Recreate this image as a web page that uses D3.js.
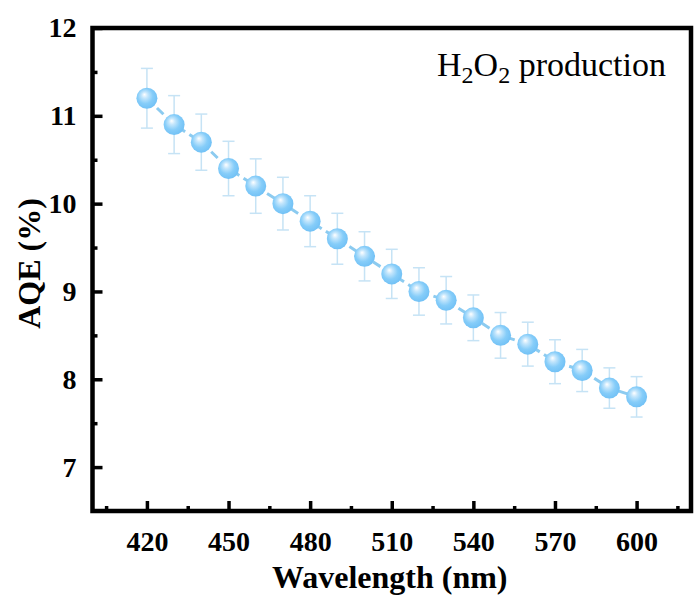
<!DOCTYPE html>
<html><head><meta charset="utf-8">
<script src="https://cdn.jsdelivr.net/npm/d3@7"></script>
<style>html,body{margin:0;padding:0;background:#fff;}svg{display:block;}</style>
</head><body>
<svg id="c" width="694" height="597"></svg>
<script>
const wavelengths = [420,430,440,450,460,470,480,490,500,510,520,530,540,550,560,570,580,590,600];
const aqe = [11.2,10.9,10.7,10.4,10.2,10.0,9.8,9.6,9.4,9.2,9.0,8.9,8.7,8.5,8.4,8.2,8.1,7.9,7.8];
const aqeErr = [0.34,0.33,0.32,0.31,0.31,0.30,0.29,0.29,0.28,0.28,0.27,0.27,0.26,0.26,0.25,0.25,0.24,0.23,0.23];
const xTicks = [420,450,480,510,540,570,600];
const xMinor = [405,435,465,495,525,555,585,615];
const yTicks = [7,8,9,10,11,12];
const yMinor = [7.5,8.5,9.5,10.5,11.5];

const svg = d3.select("#c");
const L = 92.5, R = 691, T = 28, B = 511;
const x = d3.scaleLinear().domain([400,620]).range([L,R]);
const y = d3.scaleLinear().domain([6.5,12]).range([B,T]);

const defs = svg.append("defs");
const g = defs.append("radialGradient").attr("id","ball").attr("cx","45%").attr("cy","45%").attr("r","60%").attr("fx","38%").attr("fy","32%");
g.append("stop").attr("offset","0%").attr("stop-color","#ffffff");
g.append("stop").attr("offset","25%").attr("stop-color","#c4e6fc");
g.append("stop").attr("offset","60%").attr("stop-color","#86cdf9");
g.append("stop").attr("offset","100%").attr("stop-color","#6ebff5");

const font = "'Liberation Serif','Times New Roman',serif";

// error bars
const eb = svg.append("g").attr("stroke","#c6e3f5").attr("stroke-width",1.5).attr("fill","none");
wavelengths.forEach((w,i)=>{
  const cx = x(w), y1 = y(aqe[i]+aqeErr[i]), y2 = y(aqe[i]-aqeErr[i]);
  eb.append("line").attr("x1",cx).attr("x2",cx).attr("y1",y1).attr("y2",y2);
  eb.append("line").attr("x1",cx-6).attr("x2",cx+6).attr("y1",y1).attr("y2",y1);
  eb.append("line").attr("x1",cx-6).attr("x2",cx+6).attr("y1",y2).attr("y2",y2);
});

// dashed line
const line = d3.line().x((d,i)=>x(wavelengths[i])).y(d=>y(d));
svg.append("path").datum(aqe).attr("d",line).attr("fill","none")
  .attr("stroke","#8ccbf0").attr("stroke-width",3).attr("stroke-dasharray","9,5");

// markers
svg.append("g").selectAll("circle").data(aqe).join("circle")
  .attr("cx",(d,i)=>x(wavelengths[i])).attr("cy",d=>y(d)).attr("r",10.5)
  .attr("fill","url(#ball)");

// axes
const fr = svg.append("g");
const xb = d3.axisBottom(x).tickValues(xTicks).tickSizeInner(-10).tickSizeOuter(0).tickPadding(20).tickFormat(d3.format("d"));
const xm = d3.axisBottom(x).tickValues(xMinor).tickSizeInner(-5).tickSizeOuter(0).tickFormat("");
const yl = d3.axisLeft(y).tickValues(yTicks).tickSizeInner(-10).tickSizeOuter(0).tickPadding(16).tickFormat(d3.format("d"));
const ym = d3.axisLeft(y).tickValues(yMinor).tickSizeInner(-5).tickSizeOuter(0).tickFormat("");
[ [xb,`translate(0,${B})`], [xm,`translate(0,${B})`], [yl,`translate(${L},0)`], [ym,`translate(${L},0)`] ].forEach(([a,t])=>{
  const ga = fr.append("g").attr("transform",t).call(a);
  ga.select(".domain").remove();
  ga.selectAll("line").attr("stroke","#000").attr("stroke-width",3.5);
  ga.selectAll("text").attr("font-family",font).attr("font-weight","bold").attr("font-size",28).attr("fill","#000");
});
fr.append("rect").attr("x",L).attr("y",T).attr("width",R-L).attr("height",B-T)
  .attr("fill","none").attr("stroke","#000").attr("stroke-width",4.5);

// titles
svg.append("text").attr("x",(L+R)/2 - 2).attr("y",588).attr("text-anchor","middle")
  .attr("font-family",font).attr("font-weight","bold").attr("font-size",32).text("Wavelength (nm)");
svg.append("text").attr("transform",`translate(40,${(T+B)/2 - 6}) rotate(-90)`).attr("text-anchor","middle")
  .attr("font-family",font).attr("font-weight","bold").attr("font-size",32).text("AQE (%)");

// legend text
const lt = svg.append("text").attr("x",437).attr("y",76).attr("font-family",font).attr("font-size",34).attr("fill","#000");
lt.append("tspan").text("H");
lt.append("tspan").attr("font-size",24).attr("dy",7).text("2");
lt.append("tspan").attr("dy",-7).text("O");
lt.append("tspan").attr("font-size",24).attr("dy",7).text("2");
lt.append("tspan").attr("dy",-7).text(" production");
</script>
</body></html>
